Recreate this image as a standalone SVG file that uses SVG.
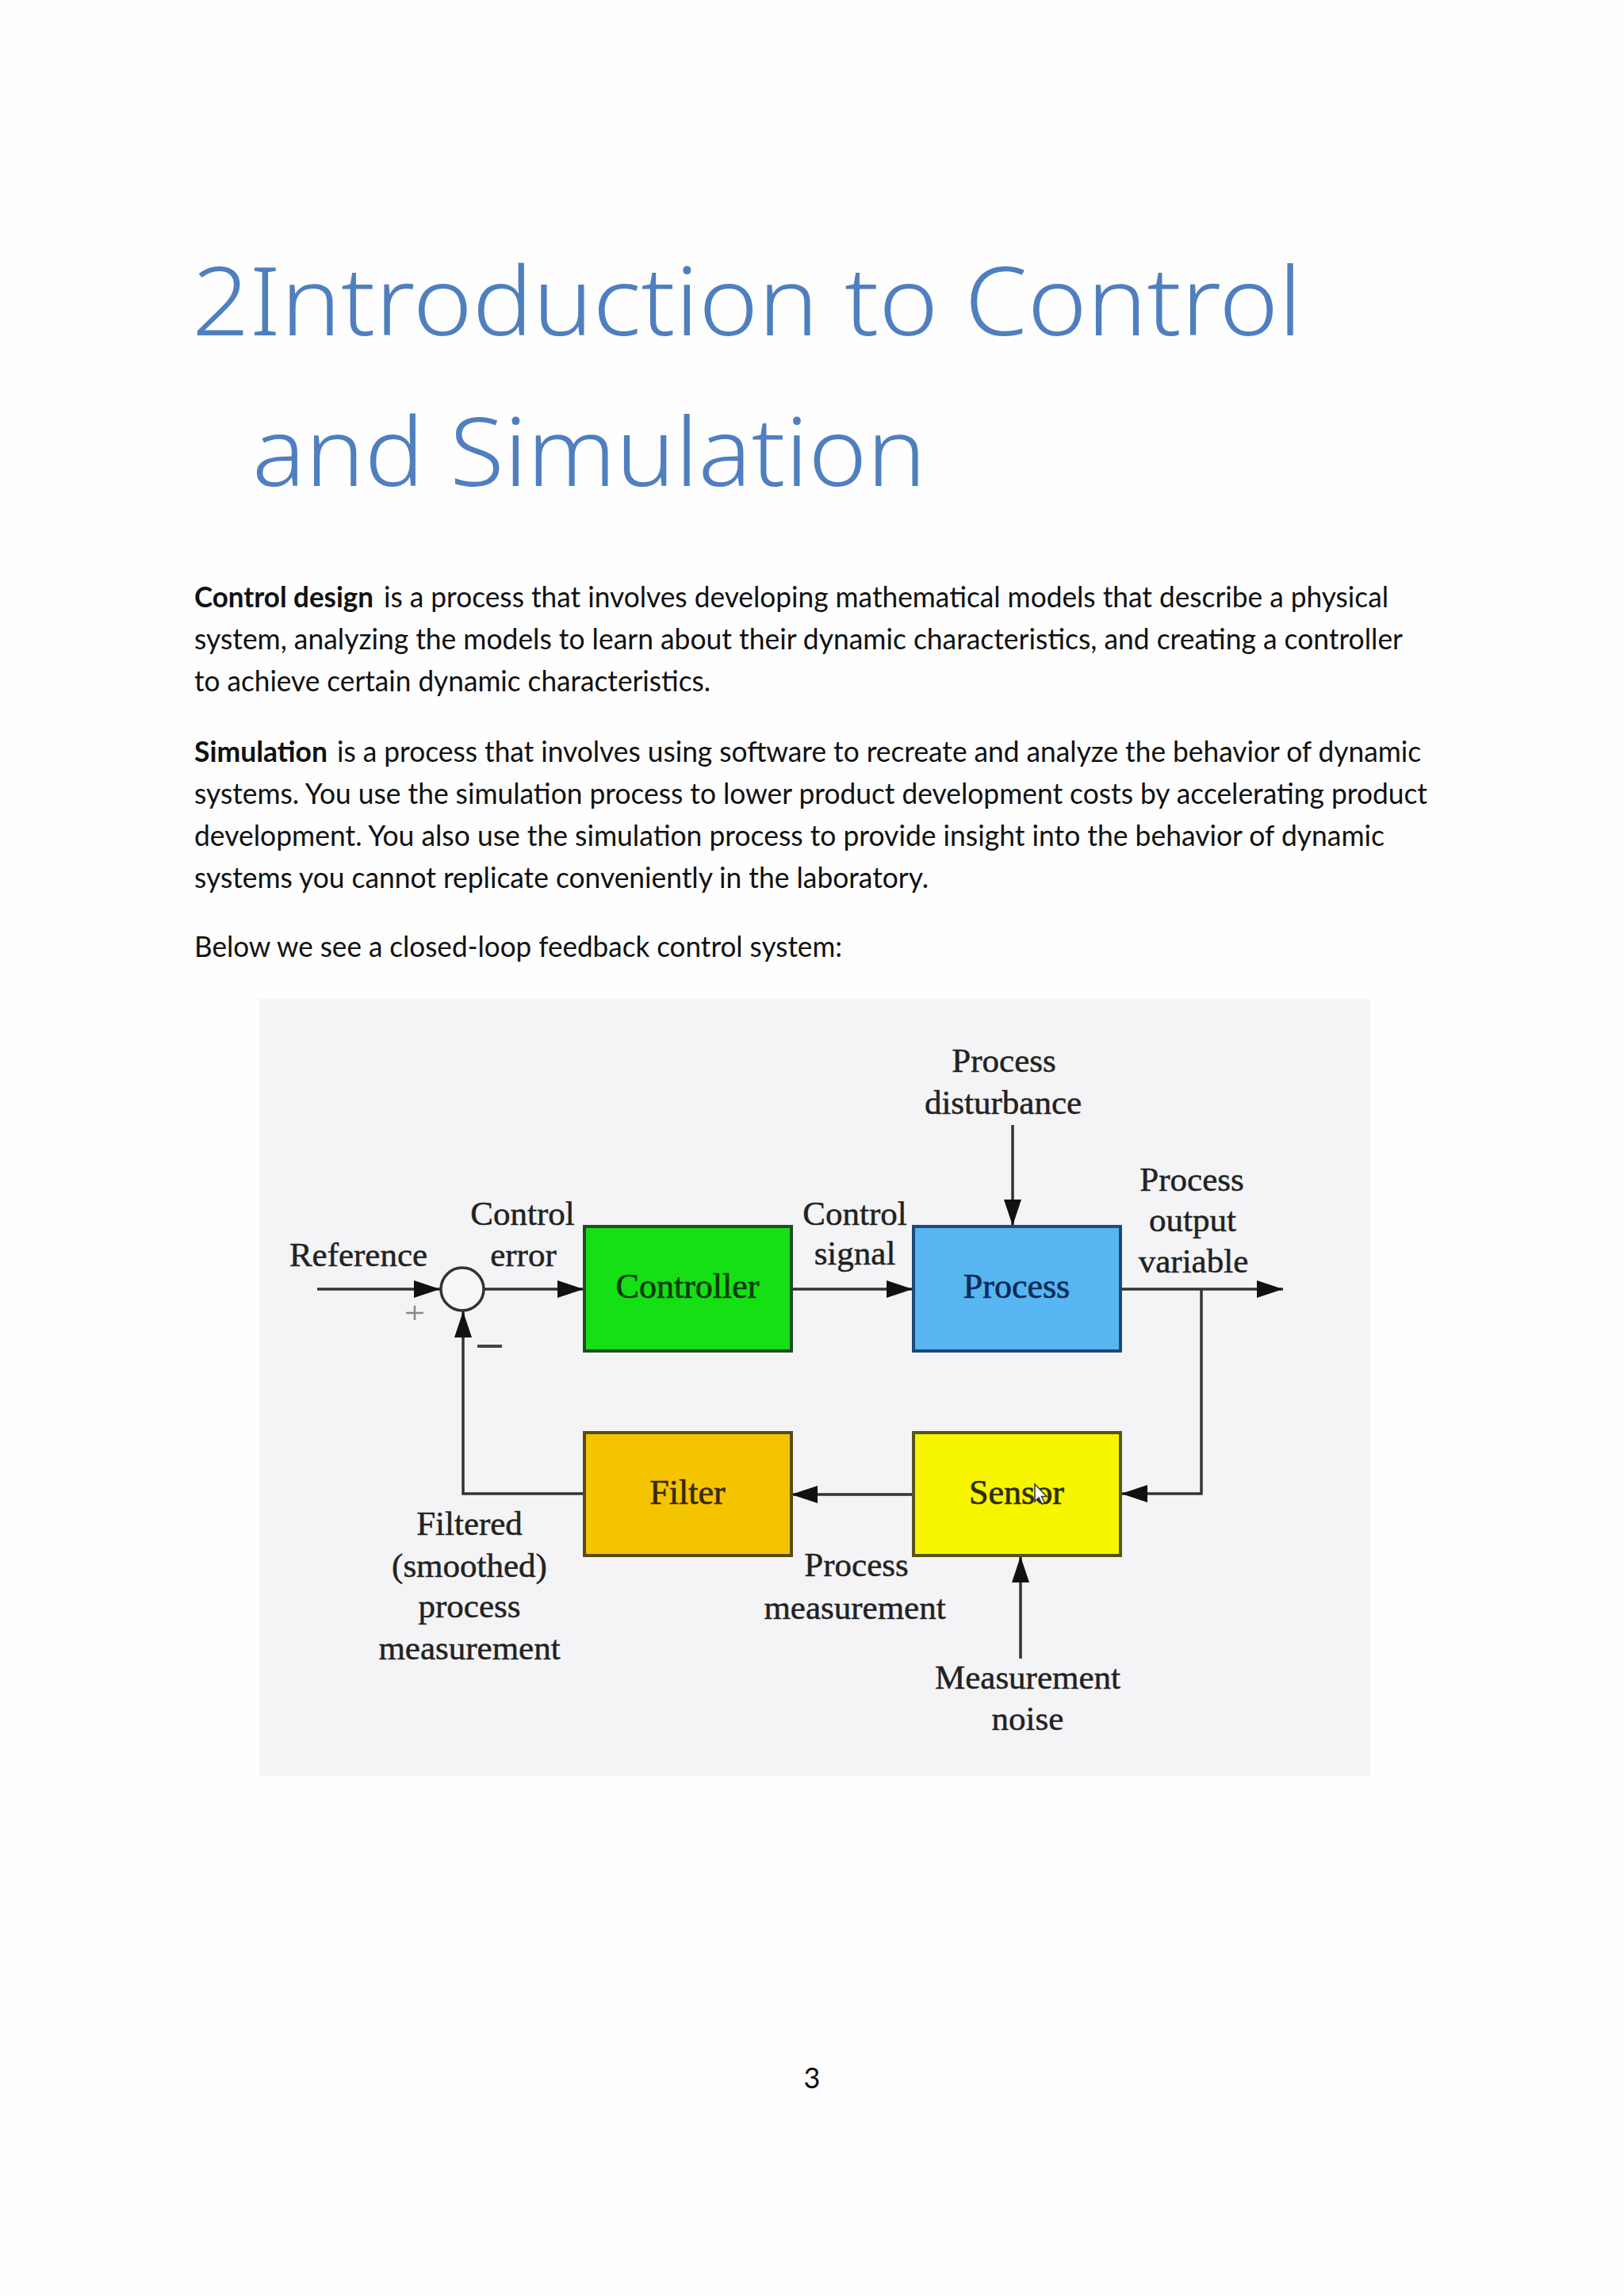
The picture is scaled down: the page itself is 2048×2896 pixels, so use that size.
<svg xmlns="http://www.w3.org/2000/svg" width="2048" height="2896" viewBox="0 0 2048 2896">
  <style>
    .title { font-family: "Noto Sans", "Open Sans", sans-serif; font-weight: 300; font-size: 120px; fill: #4f7fbf; }
    .body { font-family: Lato, "Noto Sans", sans-serif; font-size: 36px; fill: #111; }
    .bold { font-weight: bold; }
    .lbl { font-family: "Liberation Serif", "Times New Roman", serif; font-size: 43px; fill: #222; stroke: #222; stroke-width: 0.5; text-anchor: middle; }
    .blbl { font-family: "Liberation Serif", "Times New Roman", serif; font-size: 44px; stroke-width: 0.7; text-anchor: middle; }
    .wire { fill: none; stroke: #333; stroke-width: 3.5; }
    .box { stroke-width: 4; }
  </style>
  <defs>
    <marker id="arr" markerUnits="userSpaceOnUse" markerWidth="34" markerHeight="24" refX="33" refY="11" orient="auto">
      <path d="M0,0 L33,11 L0,22 Z" fill="#111"/>
    </marker>
  </defs>

  <rect x="0" y="0" width="2048" height="2896" fill="#fefefe"/>

  <g id="heading">
    <text class="title" x="242" y="423" textLength="1400" lengthAdjust="spacingAndGlyphs">2Introduction to Control</text>
    <text class="title" x="318" y="613" textLength="850" lengthAdjust="spacingAndGlyphs">and Simulation</text>
  </g>

  <g id="body-text">
    <text class="body bold" x="245" y="766" textLength="226" lengthAdjust="spacingAndGlyphs">Control design</text>
    <text class="body" x="484" y="766" textLength="1267" lengthAdjust="spacingAndGlyphs">is a process that involves developing mathematical models that describe a physical</text>
    <text class="body" x="245" y="819" textLength="1524" lengthAdjust="spacingAndGlyphs">system, analyzing the models to learn about their dynamic characteristics, and creating a controller</text>
    <text class="body" x="245" y="872" textLength="651" lengthAdjust="spacingAndGlyphs">to achieve certain dynamic characteristics.</text>

    <text class="body bold" x="245" y="961" textLength="168" lengthAdjust="spacingAndGlyphs">Simulation</text>
    <text class="body" x="425" y="961" textLength="1367" lengthAdjust="spacingAndGlyphs">is a process that involves using software to recreate and analyze the behavior of dynamic</text>
    <text class="body" x="245" y="1014" textLength="1555" lengthAdjust="spacingAndGlyphs">systems. You use the simulation process to lower product development costs by accelerating product</text>
    <text class="body" x="245" y="1067" textLength="1501" lengthAdjust="spacingAndGlyphs">development. You also use the simulation process to provide insight into the behavior of dynamic</text>
    <text class="body" x="245" y="1120" textLength="926" lengthAdjust="spacingAndGlyphs">systems you cannot replicate conveniently in the laboratory.</text>

    <text class="body" x="245" y="1207" textLength="817" lengthAdjust="spacingAndGlyphs">Below we see a closed-loop feedback control system:</text>
  </g>

  <rect id="diagram-bg" x="327" y="1260" width="1401" height="980" fill="#f4f4f6"/>

  <g id="connectors">
    <path class="wire" d="M400,1626 H555" marker-end="url(#arr)"/>
    <path class="wire" d="M610,1626 H736" marker-end="url(#arr)"/>
    <path class="wire" d="M998,1626 H1151" marker-end="url(#arr)"/>
    <path class="wire" d="M1413,1626 H1618" marker-end="url(#arr)"/>
    <path class="wire" d="M1515,1626 V1884 H1414" marker-end="url(#arr)"/>
    <path class="wire" d="M1152,1885 H998" marker-end="url(#arr)"/>
    <path class="wire" d="M737,1884 H584 V1654" marker-end="url(#arr)"/>
    <path class="wire" d="M1277,1419 V1546" marker-end="url(#arr)"/>
    <path class="wire" d="M1287,2092 V1963" marker-end="url(#arr)"/>
  </g>

  <g id="sum">
    <circle cx="583" cy="1626" r="27" fill="#f7f7f8" stroke="#333" stroke-width="3.5"/>
    <path d="M512,1656 H534 M523,1647 V1665" stroke="#888" stroke-width="2.5" fill="none"/>
    <path d="M602,1698 H633" stroke="#444" stroke-width="4" fill="none"/>
  </g>

  <g id="controller">
    <rect class="box" x="737" y="1547" width="261" height="157" fill="#14e014" stroke="#1e4f1e"/>
    <text class="blbl" x="867" y="1637" fill="#0b3a0b" stroke="#0b3a0b">Controller</text>
  </g>

  <g id="process">
    <rect class="box" x="1152" y="1547" width="261" height="157" fill="#57b5f2" stroke="#1d4a78"/>
    <text class="blbl" x="1282" y="1637" fill="#0c2a58" stroke="#0c2a58">Process</text>
  </g>

  <g id="filter">
    <rect class="box" x="737" y="1807" width="261" height="155" fill="#f5c400" stroke="#5a4a14"/>
    <text class="blbl" x="867" y="1897" fill="#3a2a00" stroke="#3a2a00">Filter</text>
  </g>

  <g id="sensor">
    <rect class="box" x="1152" y="1807" width="261" height="155" fill="#f7f500" stroke="#55551a"/>
    <text class="blbl" x="1282" y="1897" fill="#2e2e00" stroke="#2e2e00">Sensor</text>
    <path d="M1305,1872 V1894 L1310,1889 L1314,1897 L1317.5,1895.5 L1313.5,1887.5 L1320,1887.5 Z" fill="#ffffff" stroke="#333" stroke-width="1.5"/>
  </g>

  <g id="labels">
    <text class="lbl" x="1266" y="1352">Process</text>
    <text class="lbl" x="1265" y="1405">disturbance</text>
    <text class="lbl" x="452" y="1597">Reference</text>
    <text class="lbl" x="659" y="1545">Control</text>
    <text class="lbl" x="660" y="1597">error</text>
    <text class="lbl" x="1078" y="1545">Control</text>
    <text class="lbl" x="1078" y="1595">signal</text>
    <text class="lbl" x="1503" y="1502">Process</text>
    <text class="lbl" x="1504" y="1553">output</text>
    <text class="lbl" x="1505" y="1605">variable</text>
    <text class="lbl" x="592" y="1936">Filtered</text>
    <text class="lbl" x="592" y="1989">(smoothed)</text>
    <text class="lbl" x="592" y="2040">process</text>
    <text class="lbl" x="592" y="2093">measurement</text>
    <text class="lbl" x="1080" y="1988">Process</text>
    <text class="lbl" x="1078" y="2042">measurement</text>
    <text class="lbl" x="1296" y="2130">Measurement</text>
    <text class="lbl" x="1296" y="2182">noise</text>
  </g>

  <text id="page-number" x="1024" y="2634" font-family="Lato, 'Noto Sans', sans-serif" font-size="36" fill="#111" text-anchor="middle">3</text>
</svg>
